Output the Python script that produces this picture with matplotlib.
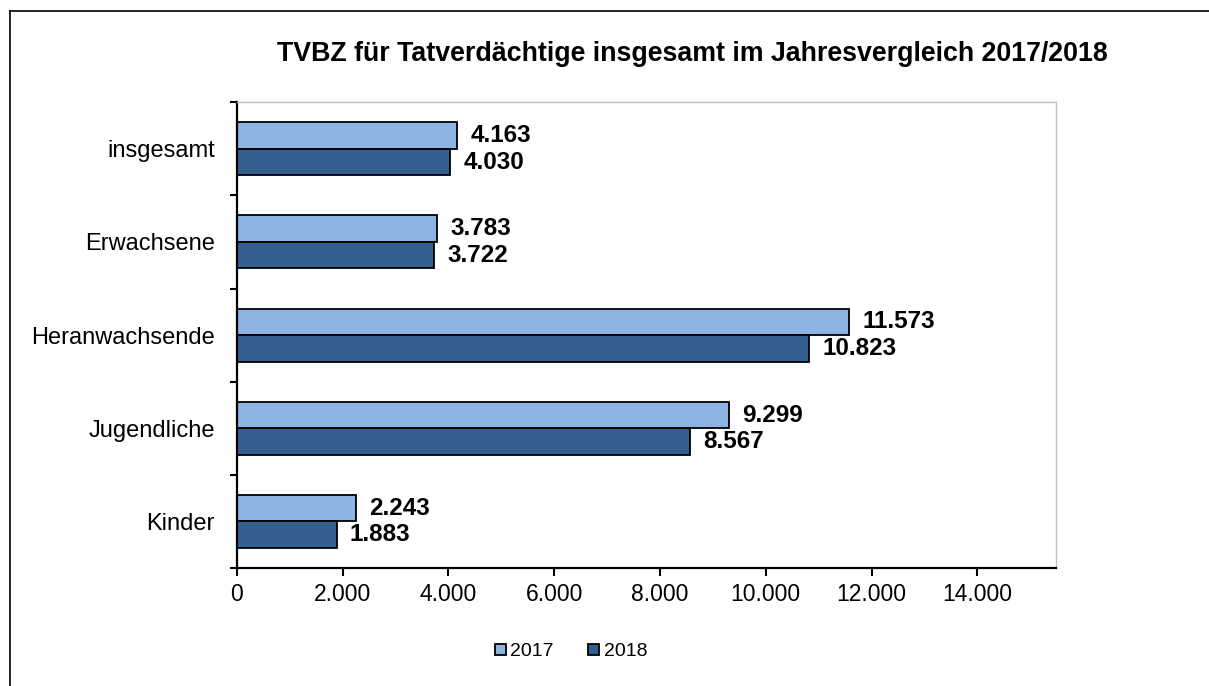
import numpy as np
import matplotlib.pyplot as plt
from matplotlib.patches import Patch
from matplotlib.lines import Line2D
from matplotlib.ticker import FuncFormatter, FixedLocator

plt.rcParams['font.family'] = ['Liberation Sans', 'DejaVu Sans']

# Daten
categories = ['insgesamt', 'Erwachsene', 'Heranwachsende', 'Jugendliche', 'Kinder']
values_2017 = [4163, 3783, 11573, 9299, 2243]
values_2018 = [4030, 3722, 10823, 8567, 1883]
series_labels = ['2017', '2018']
x_ticks = [0, 2000, 4000, 6000, 8000, 10000, 12000, 14000]

COL_2017 = '#8DB3E2'
COL_2018 = '#355F91'


def de_fmt(v):
    return f"{v:,.0f}".replace(",", ".")


fig = plt.figure(figsize=(12.09, 6.86), dpi=100)
ax = fig.add_axes([0.196, 0.172, 0.6775, 0.679])

y = np.arange(len(categories))
h = 0.284
b1 = ax.barh(y - h / 2, values_2017, height=h, color=COL_2017,
             edgecolor='black', linewidth=1.3)
b2 = ax.barh(y + h / 2, values_2018, height=h, color=COL_2018,
             edgecolor='black', linewidth=1.3)

for bars, vals in ((b1, values_2017), (b2, values_2018)):
    for rect, v in zip(bars, vals):
        ax.annotate(de_fmt(v), (rect.get_width(), rect.get_y() + rect.get_height() / 2),
                    xytext=(9.5, 0), textcoords='offset points',
                    ha='left', va='center', fontsize=17.5, fontweight='bold')

ax.set_xlim(0, 15490)
ax.set_ylim(len(categories) - 0.5, -0.5)

ax.set_xticks(x_ticks)
ax.xaxis.set_major_formatter(FuncFormatter(lambda v, p: de_fmt(v)))
ax.tick_params(axis='x', direction='out', length=6, width=1.5, labelsize=16.5, pad=5)

ax.set_yticks(y)
ax.set_yticklabels(categories)
ax.yaxis.set_minor_locator(FixedLocator(np.arange(len(categories) + 1) - 0.5))
ax.tick_params(axis='y', which='major', length=0, labelsize=17, pad=16)
ax.tick_params(axis='y', which='minor', direction='out', length=5, width=1.5)

for side in ('left', 'bottom'):
    ax.spines[side].set_color('black')
    ax.spines[side].set_linewidth(1.6)
for side in ('top', 'right'):
    ax.spines[side].set_color('#BFBFBF')
    ax.spines[side].set_linewidth(1.0)

fig.text(692 / 1209, 1 - 54 / 686,
         'TVBZ für Tatverdächtige insgesamt im Jahresvergleich 2017/2018',
         ha='center', va='center', fontsize=19.3, fontweight='bold')

handles = [Patch(facecolor=COL_2017, edgecolor='black', linewidth=1.3),
           Patch(facecolor=COL_2018, edgecolor='black', linewidth=1.3)]
fig.legend(handles, series_labels, loc='center', bbox_to_anchor=(571 / 1209, 1 - 652 / 686),
           ncol=2, frameon=False, fontsize=14, handlelength=0.55, handleheight=0.55,
           handletextpad=0.25, columnspacing=1.75)

# Rahmen um die Grafik
fig.add_artist(Line2D([10 / 1209, 10 / 1209], [0, 1 - 11 / 686], color='black', lw=1.2))
fig.add_artist(Line2D([10 / 1209, 1], [1 - 11 / 686, 1 - 11 / 686], color='black', lw=1.2))

fig.savefig('out.png', dpi=100)
